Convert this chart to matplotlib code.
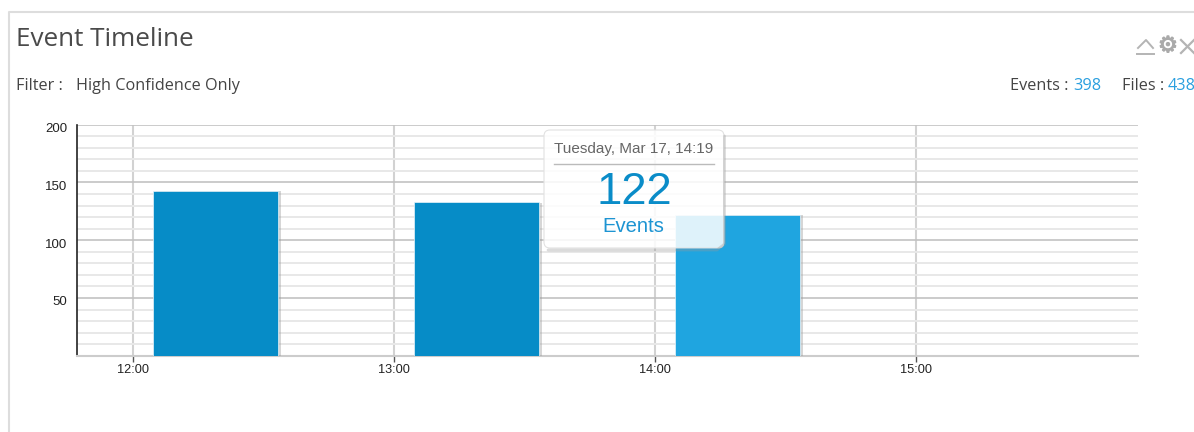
import matplotlib
matplotlib.use("Agg")
import matplotlib.pyplot as plt
from matplotlib.patches import FancyBboxPatch
from matplotlib.transforms import ScaledTranslation
import matplotlib.patheffects as pe

# minutes since midnight, bar centres
bar_minutes = [739, 799, 859]
bar_events = [143, 133, 122]
bar_colors = ["#068cc7", "#068cc7", "#1fa5e0"]
hour_ticks = [720, 780, 840, 900]
hour_labels = ["12:00", "13:00", "14:00", "15:00"]
y_ticks = [50, 100, 150, 200]
y_minor = [10, 20, 30, 40, 60, 70, 80, 90, 110, 120, 130, 140, 160, 170, 180, 190]

W, H = 1194, 432
fig = plt.figure(figsize=(W / 100, H / 100), dpi=100, facecolor="white")

left, right, top, bottom = 77, 1138, 124.7, 355.7
ax = fig.add_axes([left / W, 1 - bottom / H, (right - left) / W, (bottom - top) / H])
ax.set_xlim(720 - 56 * 60 / 261, 720 + (right - 133) * 60 / 261)
ax.set_ylim(0, 200)

ax.set_yticks(y_ticks)
ax.set_yticks(y_minor, minor=True)
ax.set_xticks(hour_ticks)
ax.set_xticklabels(hour_labels, family="Liberation Sans", fontsize=9.2, color="#222222")
ax.tick_params(axis="y", which="both", length=0, pad=7)
ax.tick_params(axis="x", length=4, width=1, color="#555555", pad=2)
shift_down = ScaledTranslation(0, -3 / 100, fig.dpi_scale_trans)
for t in ax.get_yticklabels():
    t.set_family("Liberation Sans")
    t.set_fontsize(9.5)
    t.set_color("#222222")
    t.set_transform(t.get_transform() + shift_down)

ax.grid(axis="y", which="major", color="#c2c2c2", lw=1.2, zorder=1)
ax.grid(axis="y", which="minor", color="#e8e8e8", lw=1.4, zorder=1)
ax.grid(axis="x", which="major", color="#d2d2d2", lw=1.5, zorder=1)
ax.set_axisbelow(True)

bars = ax.bar(bar_minutes, bar_events, width=28.8, color=bar_colors, edgecolor="#e9f4fa", lw=0.5, zorder=3)
for b in bars:
    b.set_path_effects([
        pe.SimplePatchShadow(offset=(2, -0.5), shadow_rgbFace="#999999", alpha=0.4),
        pe.Normal(),
    ])

for s in ["top", "right"]:
    ax.spines[s].set_visible(False)
ax.spines["left"].set_color("#222222")
ax.spines["left"].set_linewidth(1.2)
ax.spines["bottom"].set_color("#cccccc")
ax.spines["bottom"].set_linewidth(1.5)

# overlay in pixel coordinates for the panel furniture
ov = fig.add_axes([0, 0, 1, 1], facecolor="none")
ov.set_xlim(0, W)
ov.set_ylim(H, 0)
ov.axis("off")

ov.plot([8.5, 8.5, W], [H, 11.5, 11.5], color="#dddddd", lw=1.5)

ui_font = "Open Sans"
ov.text(16, 40, "Event Timeline", family=ui_font, fontsize=18.8, color="#4a4a4a", va="center")
ov.text(16, 86, "Filter :", family=ui_font, fontsize=11.7, color="#444444", va="center")
ov.text(76, 86, "High Confidence Only", family=ui_font, fontsize=11.7, color="#444444", va="center")
ov.text(1010, 86, "Events :", family=ui_font, fontsize=11.7, color="#444444", va="center")
ov.text(1073, 86, "398", family=ui_font, fontsize=11.7, color="#2a9fdf", va="center")
ov.text(1122, 86, "Files :", family=ui_font, fontsize=11.7, color="#444444", va="center")
ov.text(1168, 86, "438", family=ui_font, fontsize=11.7, color="#2a9fdf", va="center")

# window icons
ov.plot([1138, 1146, 1153], [48, 40, 48], color="#b4b4b4", lw=1.4)
ov.plot([1137, 1154], [54, 54], color="#b4b4b4", lw=1.4)
ov.text(1168, 46, "\u2699", family="DejaVu Sans", fontsize=16, color="#aaaaaa", ha="center", va="center",
        path_effects=[pe.withStroke(linewidth=0.8, foreground="#aaaaaa")])
ov.plot([1181, 1194], [40, 53], color="#b4b4b4", lw=1.6)
ov.plot([1181, 1194], [53, 40], color="#b4b4b4", lw=1.6)

# tooltip: soft shadow strips on the outside, then the translucent card
ov.plot([548, 717, 724.5, 724.5], [250, 250, 244, 136], color="#999999", lw=2, alpha=0.35, solid_capstyle="round")
tip = FancyBboxPatch(
    (548, 134), 172, 110, boxstyle="round,pad=4,rounding_size=6",
    facecolor=(1, 1, 1, 0.86), edgecolor="#e2e2e2", lw=0.8,
)
ov.add_patch(tip)
tip_font = "Liberation Sans"
ov.text(634, 149, "Tuesday, Mar 17, 14:19", family=tip_font, fontsize=11, color="#666666", ha="center", va="center")
ov.plot([554, 714], [163.5, 163.5], color="#bbbbbb", lw=1)
ov.text(634, 192, "122", family=tip_font, fontsize=32.7, color="#0a8cc8", ha="center", va="center")
ov.text(633, 227, "Events", family=tip_font, fontsize=14.6, color="#1d94d2", ha="center", va="center")

fig.savefig("out.png", dpi=100)
